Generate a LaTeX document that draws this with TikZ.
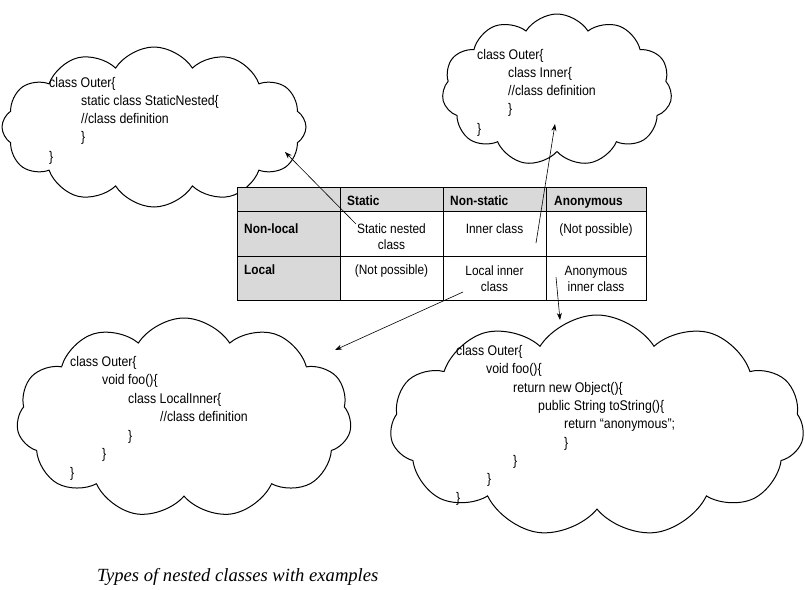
\documentclass[tikz,border=0pt]{standalone}
\usepackage{fontspec}
\setmainfont{Liberation Sans}[FakeStretch=0.88]
\newfontfamily\capfont{Liberation Serif}
\usetikzlibrary{shapes.symbols,arrows.meta}
\begin{document}
\begin{tikzpicture}[x=1pt,y=-1pt,
  code/.style={anchor=base west,inner sep=0pt,font=\fontsize{14}{16}\selectfont},
  hdr/.style={anchor=base west,inner sep=0pt,font=\fontsize{13.5}{16}\selectfont\bfseries},
  cell/.style={anchor=base,inner sep=0pt,align=center,font=\fontsize{13.5}{16}\selectfont},
  bubble/.style={cloud,draw,line width=1pt,cloud puffs=11,cloud puff arc=115,inner sep=0pt},
  conn/.style={line width=0.6pt,-{Stealth[length=7pt,width=5pt]}},
  grid/.style={line width=0.8pt}]
\useasboundingbox (0,0) rectangle (805,589);

% clouds
\node[bubble,cloud puffs=12,minimum width=304pt,minimum height=160pt,aspect=1.9] (c1) at (154,127) {};
\node[bubble,minimum width=230pt,minimum height=152pt,aspect=1.5] (c2) at (557,90) {};
\node[bubble,minimum width=335pt,minimum height=200pt,aspect=1.7] (c3) at (184,418) {};
\node[bubble,minimum width=414pt,minimum height=222pt,aspect=1.9] (c4) at (597,426) {};

% table
\fill[gray!30] (237,187) rectangle (646,211);
\fill[gray!30] (237,211) rectangle (340,300);
\draw[grid] (237,187) rectangle (646,300);
\draw[grid] (237,211) -- (646,211);
\draw[grid] (237,256) -- (646,256);
\draw[grid] (340,187) -- (340,300);
\draw[grid] (443,187) -- (443,300);
\draw[grid] (546,187) -- (546,300);

\node[hdr] (hs) at (347,205) {Static};
\node[hdr] (hn) at (450,205) {Non-static};
\node[hdr] (ha) at (554,205) {Anonymous};
\node[hdr] (rn) at (244,233) {Non-local};
\node[hdr] (rl) at (244,274) {Local};

\node[cell] (s1) at (391.5,249) {Static nested\\class};
\node[cell] (i1) at (494.5,233) {Inner class};
\node[cell] (n1) at (596,233) {(Not possible)};
\node[cell] (n2) at (391.5,274) {(Not possible)};
\node[cell] (l2) at (494.5,291) {Local inner\\class};
\node[cell] (a2) at (596,291) {Anonymous\\inner class};

% cloud 1 text
\node[code] (t11) at (49,87) {class Outer\{};
\node[code] (t12) at (81,105) {static class StaticNested\{};
\node[code] (t13) at (81,123) {//class definition};
\node[code] (t14) at (81,141) {\}};
\node[code] (t15) at (49,161) {\}};

% cloud 2 text
\node[code] (t21) at (477,59) {class Outer\{};
\node[code] (t22) at (508,77) {class Inner\{};
\node[code] (t23) at (508,95.5) {//class definition};
\node[code] (t24) at (508,113) {\}};
\node[code] (t25) at (477,133) {\}};

% cloud 3 text
\node[code] (t31) at (70,366) {class Outer\{};
\node[code] (t32) at (102,384.5) {void foo()\{};
\node[code] (t33) at (128,403) {class LocalInner\{};
\node[code] (t34) at (160,421.5) {//class definition};
\node[code] (t35) at (128,440) {\}};
\node[code] (t36) at (102,458) {\}};
\node[code] (t37) at (70,477) {\}};

% cloud 4 text
\node[code] (t41) at (456,355) {class Outer\{};
\node[code] (t42) at (486,373) {void foo()\{};
\node[code] (t43) at (513,392) {return new Object()\{};
\node[code] (t44) at (538,410) {public String toString()\{};
\node[code] (t45) at (564,428) {return “anonymous”;};
\node[code] (t46) at (564,447) {\}};
\node[code] (t47) at (513,465) {\}};
\node[code] (t48) at (487,483) {\}};
\node[code] (t49) at (456,502) {\}};

% connectors
\coordinate (p1s) at (356,224);
\coordinate (p1e) at (285,152);
\coordinate (p2s) at (536,243);
\coordinate (p2e) at (555,124);
\coordinate (p3s) at (463,292);
\coordinate (p3e) at (335,350);
\coordinate (p4s) at (556,277);
\coordinate (p4e) at (560,320);
\draw[conn] (p1s) -- (p1e);
\draw[conn] (p2s) -- (p2e);
\draw[conn] (p3s) -- (p3e);
\draw[conn] (p4s) -- (p4e);

% caption
\node[anchor=base west,inner sep=0pt,font=\capfont\itshape\fontsize{18.6}{22}\selectfont] (cap) at (97,581) {Types of nested classes with examples};
\end{tikzpicture}
\end{document}
